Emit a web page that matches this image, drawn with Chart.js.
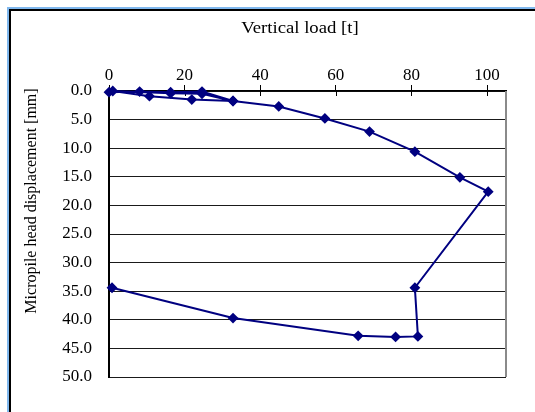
<!DOCTYPE html>
<html>
<head>
<meta charset="utf-8">
<script src="https://cdn.jsdelivr.net/npm/chart.js@4.4.1/dist/chart.umd.min.js"></script>
<style>
  body { margin: 0; background: #fff; overflow: hidden; }
  #wrap { position: relative; width: 535px; height: 412px; }
  #frame { position: absolute; left: 7px; top: 7px; width: 600px; height: 500px;
           border-left: 2px solid #80b8ee; border-top: 2px solid #80b8ee; }
  #frame div { width: 100%; height: 100%; border-left: 2px solid #000; border-top: 2px solid #000; }
  canvas { position: absolute; left: 0; top: 0; }
</style>
</head>
<body>
<div id="wrap">
  <div id="frame"><div></div></div>
  <canvas id="chart" width="535" height="412"></canvas>
</div>
<script>
// load test readings: vertical load [t] vs head displacement [mm]
const loadT = [0, 8.1, 16.3, 24.6, 32.8, 24.6, 16.3, 1, 10.7, 21.9, 32.8, 44.9, 57.1, 68.9, 80.9, 92.8, 100.3, 80.9, 81.7, 75.8, 65.9, 32.8, 0.8]
const dispMm = [0.2, 0.1, 0.2, 0.1, 1.75, 0.5, 0.4, 0, 0.9, 1.5, 1.75, 2.7, 4.8, 7.1, 10.6, 15.1, 17.6, 34.4, 42.9, 43.0, 42.8, 39.7, 34.4]

const xTitle = 'Vertical load [t]'
const yTitle = 'Micropile head displacement [mm]'

const points = loadT.map((x, i) => ({ x: x, y: dispMm[i] }))

Chart.defaults.font.family = "'Liberation Serif', 'Times New Roman', serif"
Chart.defaults.color = '#000'

const extras = {
  id: 'extras',
  beforeDatasetsDraw(chart) {
    const ctx = chart.ctx
    const area = chart.chartArea
    const xs = chart.scales.x
    ctx.save()
    // grey right edge of the plot area
    ctx.strokeStyle = '#8a8a8a'
    ctx.lineWidth = 2
    ctx.beginPath()
    ctx.moveTo(area.right, area.top)
    ctx.lineTo(area.right, area.bottom)
    ctx.stroke()
    // inner half of the cross tick marks
    ctx.strokeStyle = '#000'
    ctx.lineWidth = 1
    xs.ticks.forEach((t) => {
      const px = Math.round(xs.getPixelForValue(t.value)) + 0.5
      ctx.beginPath()
      ctx.moveTo(px, area.top)
      ctx.lineTo(px, area.top + 5)
      ctx.stroke()
    })
    ctx.restore()
  },
  afterDraw(chart) {
    const ctx = chart.ctx
    ctx.save()
    ctx.fillStyle = '#000'
    ctx.font = "16px 'Liberation Serif'"
    ctx.textAlign = 'center'
    ctx.textBaseline = 'middle'
    // the original picture is a bit wider than tall, stretch the title
    ctx.save()
    ctx.translate(300, 29)
    ctx.scale(1.17, 1)
    ctx.fillText(xTitle, 0, 0)
    ctx.restore()
    ctx.translate(32, 201)
    ctx.rotate(-Math.PI / 2)
    ctx.fillText(yTitle, 0, 0)
    ctx.restore()
  }
}

new Chart(document.getElementById('chart'), {
  type: 'scatter',
  data: {
    datasets: [{
      data: points,
      showLine: true,
      borderColor: '#000080',
      backgroundColor: '#000080',
      borderWidth: 2,
      pointStyle: 'rectRot',
      pointRadius: 4,
      pointHoverRadius: 4,
      clip: false
    }]
  },
  options: {
    responsive: false,
    animation: false,
    events: [],
    layout: { padding: { left: 0, top: 0, right: 29, bottom: 35 } },
    plugins: { legend: { display: false }, tooltip: { enabled: false } },
    scales: {
      x: {
        type: 'linear',
        position: 'top',
        min: 0,
        max: 105,
        afterFit: (s) => { s.height = 91 },
        ticks: { stepSize: 20, includeBounds: false, padding: -1, maxRotation: 0, font: { size: 17 } },
        grid: { drawOnChartArea: false, drawTicks: true, tickLength: 6, color: '#000' },
        border: { display: true, color: '#000', width: 1.5 }
      },
      y: {
        type: 'linear',
        reverse: true,
        min: 0,
        max: 50,
        afterFit: (s) => { s.width = 109 },
        ticks: { stepSize: 5, padding: 17, font: { size: 17 }, callback: (v) => v.toFixed(1) },
        grid: { drawTicks: false, color: '#1a1a1a', lineWidth: 1 },
        border: { display: true, color: '#000', width: 2 }
      }
    }
  },
  plugins: [extras]
})
</script>
</body>
</html>
